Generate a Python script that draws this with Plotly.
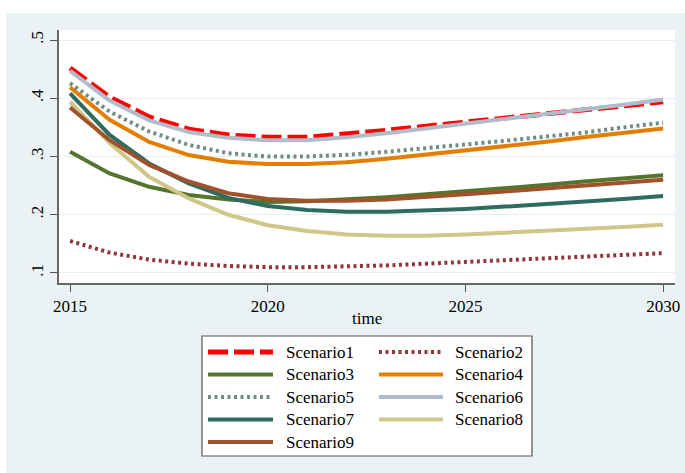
import plotly.graph_objects as go

years = list(range(2015, 2031))

scenario_names = ["Scenario1", "Scenario2", "Scenario3", "Scenario4", "Scenario5",
                  "Scenario6", "Scenario7", "Scenario8", "Scenario9"]

s1 = [0.452, 0.402, 0.368, 0.347, 0.337, 0.333, 0.333, 0.338, 0.345, 0.352, 0.359, 0.366, 0.373, 0.380, 0.387, 0.394]
s2 = [0.155, 0.135, 0.123, 0.116, 0.112, 0.110, 0.110, 0.111, 0.113, 0.116, 0.119, 0.122, 0.125, 0.128, 0.131, 0.134]
s3 = [0.308, 0.271, 0.248, 0.234, 0.226, 0.222, 0.223, 0.226, 0.230, 0.235, 0.240, 0.246, 0.251, 0.257, 0.262, 0.268]
s4 = [0.419, 0.363, 0.325, 0.3025, 0.291, 0.287, 0.287, 0.290, 0.296, 0.303, 0.310, 0.317, 0.325, 0.333, 0.340, 0.348]
s5 = [0.426, 0.377, 0.343, 0.320, 0.3055, 0.300, 0.300, 0.303, 0.308, 0.314, 0.320, 0.327, 0.334, 0.341, 0.350, 0.358]
s6 = [0.447, 0.396, 0.362, 0.342, 0.332, 0.328, 0.328, 0.333, 0.340, 0.348, 0.356, 0.364, 0.372, 0.380, 0.389, 0.398]
s7 = [0.4085, 0.337, 0.288, 0.254, 0.229, 0.215, 0.208, 0.205, 0.205, 0.207, 0.210, 0.214, 0.218, 0.223, 0.227, 0.232]
s8 = [0.394, 0.323, 0.265, 0.228, 0.200, 0.182, 0.172, 0.166, 0.164, 0.164, 0.166, 0.169, 0.172, 0.175, 0.179, 0.183]
s9 = [0.384, 0.328, 0.2855, 0.257, 0.237, 0.227, 0.224, 0.224, 0.226, 0.230, 0.235, 0.240, 0.245, 0.250, 0.255, 0.260]

series = [s1, s2, s3, s4, s5, s6, s7, s8, s9]

colors = ["#FF0000", "#90353B", "#55752F", "#E37E00", "#6E8E84",
          "#B0BCC9", "#2F6B5F", "#CFC687", "#A0522D"]
dashes = ["20px,6px", "3px,3.5px", "solid", "solid", "3px,3.5px",
          "solid", "solid", "solid", "solid"]
widths = [5, 4, 4, 4, 4, 4, 4, 4, 4]

y_tickvals = [0.1, 0.2, 0.3, 0.4, 0.5]
y_ticktext = [".1", ".2", ".3", ".4", ".5"]
x_tickvals = [2015, 2020, 2025, 2030]

FONT = "Liberation Serif, Times New Roman, DejaVu Serif, serif"
BG = "#EAF2F3"

fig = go.Figure()
for name, vals, c, d, w in zip(scenario_names, series, colors, dashes, widths):
    fig.add_trace(go.Scatter(x=years, y=vals, mode="lines", name=name,
                             line=dict(color=c, dash=d, width=w),
                             showlegend=False))

# pixel -> paper helpers (plot area x 59..675, y 30..283)
L, R, T, B = 59, 675, 30, 283
def X(px):
    return (px - L) / (R - L)
def Y(py):
    return (B - py) / (B - T)

shapes = []
annotations = []

# white strips at top and left (page outside the graph region)
shapes.append(dict(type="rect", xref="paper", yref="paper", x0=X(0), x1=X(685), y0=Y(13), y1=Y(0),
                   fillcolor="white", line=dict(width=0), layer="above"))
shapes.append(dict(type="rect", xref="paper", yref="paper", x0=X(0), x1=X(6), y0=Y(473), y1=Y(0),
                   fillcolor="white", line=dict(width=0), layer="above"))

# legend box
shapes.append(dict(type="rect", xref="paper", yref="paper", x0=X(202), x1=X(532), y0=Y(456), y1=Y(336),
                   fillcolor="white", line=dict(color="#555555", width=1.2), layer="above"))

row_y = [352, 374.5, 397, 419.5, 442]
col_sym = [(208, 273), (379, 443)]
col_txt = [284, 453]
for i, (name, c, d, w) in enumerate(zip(scenario_names, colors, dashes, widths)):
    r, col = divmod(i, 2)
    py = row_y[r]
    x0, x1 = col_sym[col]
    shapes.append(dict(type="line", xref="paper", yref="paper", x0=X(x0), x1=X(x1), y0=Y(py), y1=Y(py),
                       line=dict(color=c, dash=d, width=w), layer="above"))
    annotations.append(dict(xref="paper", yref="paper", x=X(col_txt[col]), y=Y(py), text=name,
                            showarrow=False, xanchor="left", yanchor="middle",
                            font=dict(family=FONT, size=17, color="black")))

# x axis title
annotations.append(dict(xref="paper", yref="paper", x=X(367), y=Y(318), text="time",
                        showarrow=False, xanchor="center", yanchor="middle",
                        font=dict(family=FONT, size=17, color="black")))

fig.update_layout(
    template="none",
    width=685, height=473,
    margin=dict(l=L, r=685 - R, t=T, b=473 - B, autoexpand=False),
    paper_bgcolor=BG, plot_bgcolor="white",
    font=dict(family=FONT, size=17, color="black"),
    shapes=shapes, annotations=annotations,
    showlegend=False,
)
fig.update_xaxes(
    automargin=False,
    range=[2014.72, 2030.30], tickvals=x_tickvals, ticks="outside", ticklen=7,
    tickcolor="#555555", tickwidth=1.2, showline=True, linecolor="#666666", linewidth=1.5,
    showgrid=False, zeroline=False,
    tickfont=dict(family=FONT, size=17, color="black"),
)
fig.update_yaxes(
    automargin=False,
    range=[0.0828, 0.5172], tickvals=y_tickvals, ticktext=y_ticktext, ticks="outside", ticklen=7,
    tickcolor="#555555", tickwidth=1.2, showline=True, linecolor="#666666", linewidth=1.5,
    showgrid=True, gridcolor="#E6EEF0", gridwidth=1, zeroline=False, tickangle=-90,
    tickfont=dict(family=FONT, size=17, color="black"),
)

fig.write_html("out.html")
